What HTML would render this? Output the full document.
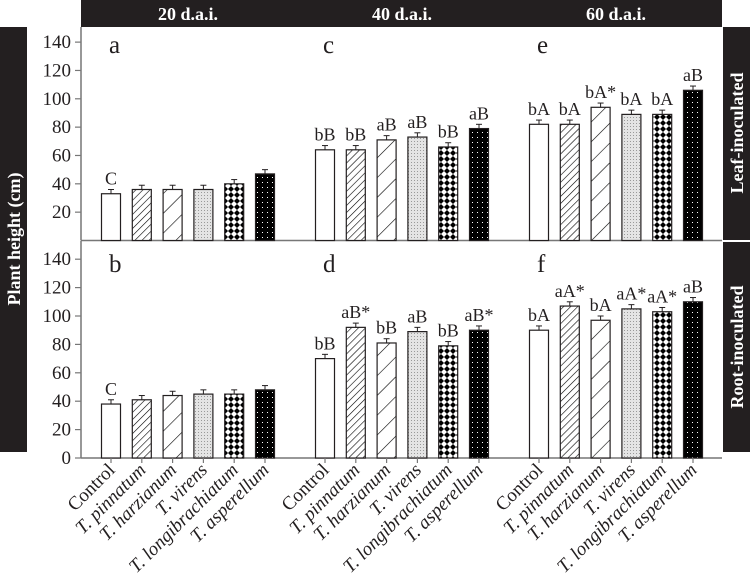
<!DOCTYPE html>
<html><head><meta charset="utf-8"><style>
body{margin:0;background:#fff;}
svg text{font-family:"Liberation Serif",serif;}
</style></head><body>
<svg id="c" width="750" height="583" viewBox="0 0 750 583" xmlns="http://www.w3.org/2000/svg">
<defs>
<pattern id="p1" width="5" height="5" patternUnits="userSpaceOnUse" patternTransform="rotate(45)"><rect width="5" height="5" fill="#fff"/><line x1="0" y1="0" x2="0" y2="5" stroke="#000" stroke-width="1.2"/></pattern>
<pattern id="p2" width="14" height="14" patternUnits="userSpaceOnUse" patternTransform="rotate(45)"><rect width="14" height="14" fill="#fff"/><line x1="0" y1="0" x2="0" y2="14" stroke="#000" stroke-width="1.2"/></pattern>
<pattern id="p3" width="3" height="3" patternUnits="userSpaceOnUse"><rect width="3" height="3" fill="#e4e4e4"/><rect width="1" height="1" fill="#999"/></pattern>
<pattern id="p4" width="6" height="6" patternUnits="userSpaceOnUse"><rect width="6" height="6" fill="#fff"/><path d="M3 0L6 3L3 6L0 3Z" fill="#000"/></pattern>
<pattern id="p5" width="5" height="5" patternUnits="userSpaceOnUse"><rect width="5" height="5" fill="#000"/><rect x="2" y="2" width="1" height="1" fill="#fff"/></pattern>
</defs>
</svg>
<script>
const categories=["Control","T. pinnatum","T. harzianum","T. virens","T. longibrachiatum","T. asperellum"];
const times=["20 d.a.i.","40 d.a.i.","60 d.a.i."];
const leafValues=[[33,36,36,36,40,47],[64,64,71,73,66,79],[82,82,94,89,89,106]];
const rootValues=[[38,41,44,45,45,48],[70,92,81,89,79,90],[90,107,97,105,103,110]];
const leafLabels=[["C","","","","",""],["bB","bB","aB","aB","bB","aB"],["bA","bA","bA*","bA","bA","aB"]];
const rootLabels=[["C","","","","",""],["bB","aB*","bB","aB","bB","aB*"],["bA","aA*","bA","aA*","aA*","aB"]];
const panelLetters=[["a","c","e"],["b","d","f"]];
const ticks=[20,40,60,80,100,120,140];
const ticksBottom=[0,20,40,60,80,100,120,140];
const svg=document.getElementById('c');const NS="http://www.w3.org/2000/svg";
function el(t,a,txt){const e=document.createElementNS(NS,t);for(const k in a)e.setAttribute(k,a[k]);if(txt!==undefined)e.textContent=txt;svg.appendChild(e);return e;}
const fills=["#fff","url(#p1)","url(#p2)","url(#p3)","url(#p4)","url(#p5)"];
const X0=81,XR=722;
function xPos(g,i){return 111+g*214+i*30.8;}
const panels=[{y0:240.5,scale:1.417,vals:leafValues,labs:leafLabels,tk:ticks},{y0:458,scale:1.42,vals:rootValues,labs:rootLabels,tk:ticksBottom}];
let b=el('rect',{x:X0,y:0,width:XR-X0,height:27,fill:'#231f20'});

times.forEach((t,g)=>{const e=el('text',{x:xPos(g,2.5),y:20,'text-anchor':'middle','font-size':18,'font-weight':'bold',fill:'#fff'},t);
});
b=el('rect',{x:0,y:27,width:27,height:425,fill:'#231f20'});

let e=el('text',{x:0,y:0,transform:'translate(20,239) rotate(-90)','text-anchor':'middle','font-size':18,'font-weight':'bold',fill:'#fff'},'Plant height (cm)');

b=el('rect',{x:723,y:27,width:27,height:425,fill:'#231f20'});

e=el('text',{x:0,y:0,transform:'translate(743,133) rotate(-90)','text-anchor':'middle','font-size':18,'font-weight':'bold',fill:'#fff'},'Leaf-inoculated');

e=el('text',{x:0,y:0,transform:'translate(743,347) rotate(-90)','text-anchor':'middle','font-size':18,'font-weight':'bold',fill:'#fff'},'Root-inoculated');

el('line',{x1:723,y1:241,x2:750,y2:241,stroke:'#fff','stroke-width':2});
panels.forEach((p,pi)=>{
  const y=v=>p.y0-v*p.scale;
  const top=pi===0?27:241;
  const ax=el('line',{x1:X0,y1:top,x2:X0,y2:p.y0,stroke:'#777','stroke-width':1.5});
  
  const bx=el('line',{x1:X0,y1:p.y0,x2:XR,y2:p.y0,stroke:'#777','stroke-width':1.5});
  
  p.tk.forEach(t=>{el('line',{x1:X0-6,y1:y(t),x2:X0,y2:y(t),stroke:'#777','stroke-width':1.2});
    const tl=el('text',{x:X0-10,y:y(t)+6,'text-anchor':'end','font-size':19,fill:'#231f20'},t);
    });
  for(let g=0;g<3;g++){
    const pl=el('text',{x:xPos(g,0)-2,y:pi===0?53:272,'font-size':25,fill:'#231f20'},panelLetters[pi][g]);
    
    for(let i=0;i<6;i++){
      const v=p.vals[g][i],cx=xPos(g,i);
      el('line',{x1:cx,y1:y(v),x2:cx,y2:y(v+3),stroke:'#231f20','stroke-width':1});
      el('line',{x1:cx-3,y1:y(v+3),x2:cx+3,y2:y(v+3),stroke:'#231f20','stroke-width':1});
      const r=el('rect',{x:cx-9.5,y:y(v),width:19,height:v*p.scale,fill:fills[i],stroke:'#231f20','stroke-width':1.2});
      
      
      const lb=p.labs[g][i];
      if(lb){const t=el('text',{x:cx,y:y(v+3)-5,'text-anchor':'middle','font-size':18,fill:'#231f20'},lb);
        }
      if(pi===1){
        el('line',{x1:cx,y1:p.y0,x2:cx,y2:p.y0+5,stroke:'#777','stroke-width':1.2});
        const cl=el('text',{x:0,y:0,transform:`translate(${cx+5},${p.y0+13}) rotate(-45)`,'text-anchor':'end','font-size':19,'font-style':i===0?'normal':'italic',fill:'#231f20'},categories[i]);
        
      }
    }
  }
});
</script>
</body></html>
